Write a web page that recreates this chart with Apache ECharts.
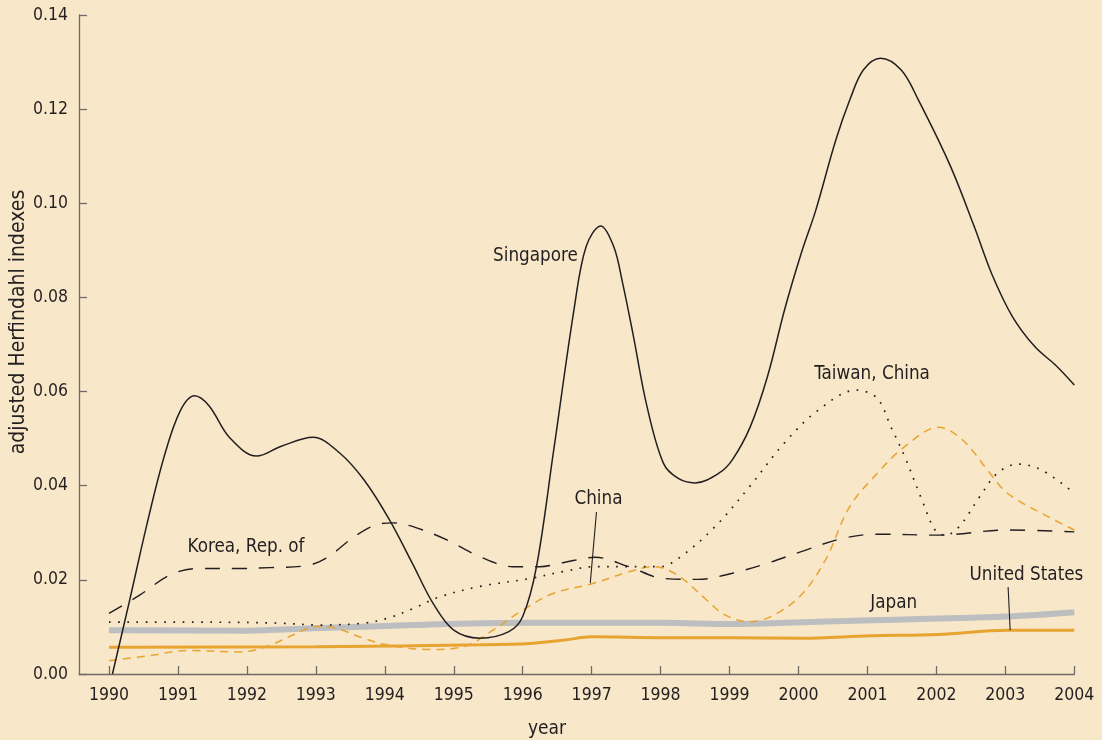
<!DOCTYPE html>
<html>
<head>
<meta charset="utf-8">
<script src="https://cdn.jsdelivr.net/npm/echarts@6/dist/echarts.min.js"></script>
<style>
  html, body { margin: 0; padding: 0; background: #f8e7c9; }
  #chart { width: 1102px; height: 740px; }
</style>
</head>
<body>
<div id="chart"></div>
<script>
// Adjusted Herfindahl indexes by economy, 1990-2004 ([year, index] pairs)
const years = [1990, 1991, 1992, 1993, 1994, 1995, 1996, 1997, 1998, 1999, 2000, 2001, 2002, 2003, 2004];
const yTicks = [0, 0.02, 0.04, 0.06, 0.08, 0.10, 0.12, 0.14];

const singapore = [
  [1990.05, 0.0000], [1990.3, 0.0157], [1990.55, 0.0318], [1990.8, 0.0462], [1991.03, 0.0558],
  [1991.24, 0.0591], [1991.45, 0.0570], [1991.75, 0.0502], [1992.14, 0.0463], [1992.5, 0.0484],
  [1992.96, 0.0503], [1993.35, 0.0469], [1993.7, 0.0412], [1994.07, 0.0327], [1994.4, 0.0235],
  [1994.7, 0.0150], [1995.0, 0.0093], [1995.38, 0.0076], [1995.8, 0.0090], [1996.0, 0.0122],
  [1996.2, 0.0228], [1996.45, 0.0476], [1996.75, 0.0780], [1996.92, 0.0908], [1997.13, 0.0952],
  [1997.32, 0.0908], [1997.45, 0.0830], [1997.6, 0.0722], [1997.8, 0.0570], [1998.04, 0.0448],
  [1998.25, 0.0416], [1998.5, 0.0406], [1998.84, 0.0426], [1999.04, 0.0455], [1999.3, 0.0525],
  [1999.55, 0.0632], [1999.8, 0.0775], [2000.04, 0.0894], [2000.25, 0.0985], [2000.54, 0.1134],
  [2000.75, 0.1222], [2000.94, 0.1283], [2001.19, 0.1308], [2001.49, 0.1283], [2001.74, 0.1219],
  [2002.2, 0.1080], [2002.55, 0.0950], [2002.8, 0.0851], [2003.1, 0.0760], [2003.43, 0.0695],
  [2003.73, 0.0656], [2004.0, 0.0614]
];

const korea = [
  [1990.0, 0.0129], [1990.45, 0.0168], [1990.88, 0.0210], [1991.27, 0.0224], [1991.85, 0.0224],
  [1992.33, 0.0226], [1992.86, 0.0230], [1993.15, 0.0246], [1993.59, 0.0295], [1993.93, 0.0319],
  [1994.12, 0.0321], [1994.41, 0.0313], [1994.9, 0.0285], [1995.38, 0.0249], [1995.86, 0.0228],
  [1996.25, 0.0228], [1996.6, 0.0237], [1997.05, 0.0248], [1997.54, 0.0228], [1998.04, 0.0203],
  [1998.54, 0.0201], [1999.04, 0.0214], [1999.54, 0.0235], [2000.04, 0.0260], [2000.64, 0.0288],
  [2001.14, 0.0297], [2002.03, 0.0295], [2003.03, 0.0306], [2004.0, 0.0302]
];

const taiwan = [
  [1990.0, 0.0110], [1991.5, 0.0110], [1992.48, 0.0108], [1993.06, 0.0104], [1993.69, 0.0108],
  [1994.03, 0.0118], [1994.41, 0.0139], [1994.8, 0.0164], [1995.38, 0.0186], [1996.11, 0.0203],
  [1996.6, 0.0218], [1997.04, 0.0228], [1997.54, 0.0228], [1997.99, 0.0228], [1998.29, 0.0249],
  [1998.79, 0.0313], [1999.29, 0.0398], [1999.79, 0.0490], [2000.29, 0.0561], [2000.84, 0.0603],
  [2001.14, 0.0586], [2001.34, 0.0525], [2001.54, 0.0462], [2001.79, 0.0370], [2001.98, 0.0306],
  [2002.13, 0.0295], [2002.33, 0.0313], [2002.63, 0.0377], [2002.88, 0.0426], [2003.18, 0.0446],
  [2003.53, 0.0433], [2004.0, 0.0384]
];

const china = [
  [1990.0, 0.0028], [1990.54, 0.0038], [1991.17, 0.0050], [1991.9, 0.0047], [1992.28, 0.0058],
  [1992.67, 0.0083], [1993.01, 0.0101], [1993.3, 0.0097], [1993.69, 0.0076], [1994.03, 0.0062],
  [1994.65, 0.0052], [1995.14, 0.0058], [1995.57, 0.0093], [1995.96, 0.0132], [1996.44, 0.0171],
  [1996.99, 0.0191], [1997.54, 0.0217], [1997.89, 0.0228], [1998.09, 0.0222], [1998.34, 0.0200],
  [1998.64, 0.0161], [1998.94, 0.0125], [1999.29, 0.0111], [1999.64, 0.0125], [2000.04, 0.0168],
  [2000.39, 0.0242], [2000.74, 0.0355], [2001.14, 0.0426], [2001.54, 0.0483], [2002.03, 0.0524],
  [2002.38, 0.0497], [2002.78, 0.0426], [2003.03, 0.0384], [2003.53, 0.0341], [2004.0, 0.0306]
];

const japan = [
  [1990.0, 0.0093], [1992.0, 0.0092], [1992.96, 0.0097], [1994.41, 0.0104], [1995.38, 0.0108],
  [1996.83, 0.0109], [1998.04, 0.0109], [1999.04, 0.0106], [2000.04, 0.0110], [2001.54, 0.0116],
  [2003.03, 0.0122], [2004.0, 0.0131]
];

const unitedStates = [
  [1990.0, 0.0057], [1993.0, 0.0058], [1995.38, 0.0062], [1996.11, 0.0065], [1996.6, 0.0072],
  [1997.0, 0.0079], [1998.04, 0.0077], [1999.04, 0.0077], [2000.04, 0.0076], [2001.04, 0.0081],
  [2002.03, 0.0084], [2003.03, 0.0093], [2004.0, 0.0093]
];

// Series labels: [text, year, value, alignment]
const seriesLabels = [
  ['Singapore', 1996.80, 0.0888, 'right'],
  ['Korea, Rep. of', 1991.14, 0.0270, 'left'],
  ['China', 1996.75, 0.0372, 'left'],
  ['Taiwan, China', 2000.23, 0.0637, 'left'],
  ['Japan', 2001.04, 0.0151, 'left'],
  ['United States', 2002.48, 0.0210, 'left']
];
// Leader lines from a label to its curve: [[year, value], [year, value]]
const leaders = [
  [[1997.07, 0.0344], [1996.98, 0.0193]],
  [[2003.04, 0.0185], [2003.07, 0.0093]]
];

const FONT = '"DejaVu Sans Condensed", "Liberation Sans Narrow", sans-serif';
const INK = '#231f20';
const AXIS = '#6f6a64';
const ORANGE = '#e8a431';

const chart = echarts.init(document.getElementById('chart'), null, { renderer: 'canvas' });

function lineSeries(name, data, style, z) {
  return {
    name, type: 'line', data, smooth: 0.35, symbol: 'none', z: z || 2,
    lineStyle: style, animation: false
  };
}

chart.setOption({
  backgroundColor: '#f8e7c9',
  animation: false,
  grid: { left: 79, right: 27.7, top: 15, bottom: 66 },
  xAxis: {
    type: 'value',
    min: 1990 - 30 / 68.95,
    max: 2004,
    splitLine: { show: false },
    axisLine: { lineStyle: { color: AXIS, width: 1.3 } },
    axisTick: { inside: true, length: 8, customValues: years, lineStyle: { color: AXIS, width: 1.3 } },
    axisLabel: {
      customValues: years, margin: 12, color: INK, fontFamily: FONT, fontSize: 17.5,
      formatter: v => String(Math.round(v))
    }
  },
  yAxis: {
    type: 'value',
    min: 0, max: 0.14, interval: 0.02,
    splitLine: { show: false },
    axisLine: { show: true, lineStyle: { color: AXIS, width: 1.3 } },
    axisTick: { show: true, inside: true, length: 8, lineStyle: { color: AXIS, width: 1.3 } },
    axisLabel: {
      margin: 11, color: INK, fontFamily: FONT, fontSize: 17.5, padding: [6, 0, 0, 0],
      formatter: v => v.toFixed(2)
    }
  },
  series: [
    lineSeries('Japan', japan, { color: '#bdbec0', width: 6, cap: 'butt' }, 1),
    lineSeries('United States', unitedStates, { color: ORANGE, width: 3, cap: 'butt' }, 2),
    lineSeries('China', china, { color: ORANGE, width: 1.5, type: [8, 6] }, 3),
    lineSeries('Taiwan, China', taiwan, { color: INK, width: 1.7, type: [1.7, 7.5] }, 3),
    lineSeries('Korea, Rep. of', korea, { color: INK, width: 1.4, type: [15, 12] }, 3),
    lineSeries('Singapore', singapore, { color: INK, width: 1.5 }, 4)
  ]
});

// Annotation text and leader lines, positioned through the grid's coordinate system
function placeAnnotations() {
  const toPx = p => chart.convertToPixel({ gridIndex: 0 }, p);
  const elements = [];
  seriesLabels.forEach(([text, x, y, align]) => {
    const [px, py] = toPx([x, y]);
    elements.push({
      type: 'text', x: px, y: py, z: 10,
      style: { text, fill: INK, font: '18.7px ' + FONT, textAlign: align, textVerticalAlign: 'middle' }
    });
  });
  leaders.forEach(([a, b]) => {
    const [x1, y1] = toPx(a);
    const [x2, y2] = toPx(b);
    elements.push({
      type: 'line', z: 10,
      shape: { x1, y1, x2, y2 },
      style: { stroke: INK, lineWidth: 1.1 }
    });
  });
  // Axis titles
  elements.push({
    type: 'text', x: 547, y: 729, z: 10,
    style: { text: 'year', fill: INK, font: '19px ' + FONT, textAlign: 'center', textVerticalAlign: 'middle' }
  });
  elements.push({
    type: 'text', x: 19, y: 322, rotation: Math.PI / 2, z: 10,
    style: { text: 'adjusted Herfindahl indexes', fill: INK, font: '21px ' + FONT, textAlign: 'center', textVerticalAlign: 'middle' }
  });
  chart.setOption({ graphic: { elements } });
}
placeAnnotations();
</script>
</body>
</html>
